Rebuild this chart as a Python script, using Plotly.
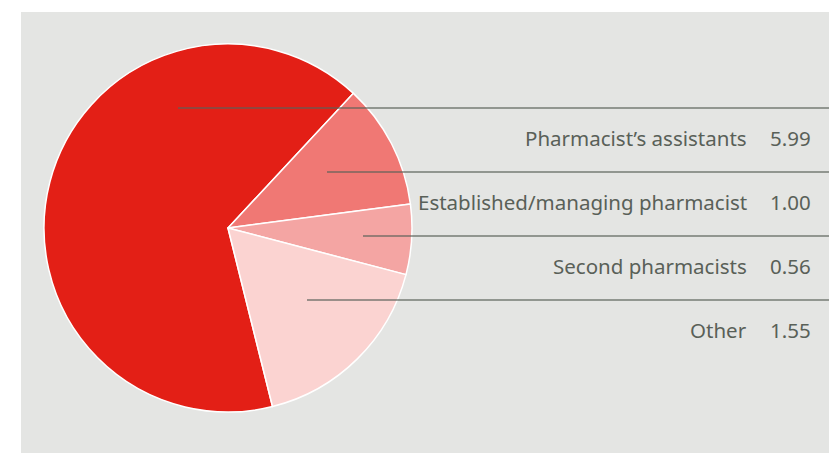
import plotly.graph_objects as go

# staff categories and average counts per pharmacy
labels = ["Pharmacist\u2019s assistants", "Established/managing pharmacist",
          "Second pharmacists", "Other"]
values = [5.99, 1.00, 0.56, 1.55]
colors = ["#e31f16", "#f07874", "#f4a5a3", "#fbd3d1"]

W, H = 829, 453

# leader line layout (pixels): start x inside each slice, line y
line_x0 = [178, 327, 363, 307]
line_y = [108, 172, 236, 300]


def px(x):
    return x / W


def py(y):
    return 1 - y / H


fig = go.Figure(go.Pie(
    labels=labels,
    values=values,
    marker=dict(colors=colors, line=dict(color="white", width=1.5)),
    sort=False,
    direction="clockwise",
    rotation=166,
    textinfo="none",
    hoverinfo="label+value",
    domain=dict(x=[px(44), px(412)], y=[py(412), py(44)]),
))

shapes = [dict(type="rect", xref="paper", yref="paper",
               x0=px(21), x1=1, y0=0, y1=py(12),
               fillcolor="#e4e5e3", line_width=0, layer="below")]
annotations = []
font = dict(family="Noto Sans, Open Sans, sans-serif", size=20.5, color="#596058")
for lab, val, x0, y in zip(labels, values, line_x0, line_y):
    shapes.append(dict(type="line", xref="paper", yref="paper",
                       x0=px(x0), x1=1, y0=py(y), y1=py(y),
                       line=dict(color="#5b625a", width=1.5), opacity=0.8))
    annotations.append(dict(xref="paper", yref="paper", x=px(749), y=py(y + 30),
                            text=lab, showarrow=False, xanchor="right",
                            yanchor="middle", font=font))
    annotations.append(dict(xref="paper", yref="paper", x=px(813), y=py(y + 30),
                            text=f"{val:.2f}", showarrow=False, xanchor="right",
                            yanchor="middle", font=font))

fig.update_layout(
    width=W, height=H,
    margin=dict(l=0, r=0, t=0, b=0),
    paper_bgcolor="white",
    showlegend=False,
    shapes=shapes,
    annotations=annotations,
)

fig.write_html("out.html", config={"displayModeBar": False},
               post_script="document.body.style.margin='0';")
